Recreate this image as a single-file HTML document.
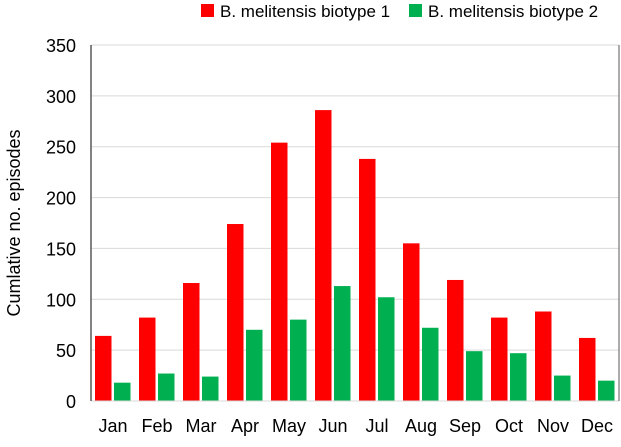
<!DOCTYPE html>
<html><head><meta charset="utf-8"><style>
body{margin:0;background:#fff;font-family:"Liberation Sans",sans-serif;}
svg text{font-family:"Liberation Sans",sans-serif;fill:#000;}
</style></head><body>
<svg id="chart" width="621" height="442">
<g id="legend">
<rect x="201" y="4" width="13" height="13" fill="#ff0000"/>
<text x="220" y="17" font-size="17">B. melitensis biotype 1</text>
<rect x="409" y="4" width="13" height="13" fill="#00b050"/>
<text x="428" y="17" font-size="17">B. melitensis biotype 2</text>
</g>
<text transform="translate(20,223) rotate(-90)" text-anchor="middle" font-size="18">Cumlative no. episodes</text>
<g id="grid"></g><g id="bars"></g><g id="axes"></g>
</svg>
<script>
const categories=["Jan","Feb","Mar","Apr","May","Jun","Jul","Aug","Sep","Oct","Nov","Dec"];
const biotype1=[64,82,116,174,254,286,238,155,119,82,88,62];
const biotype2=[18,27,24,70,80,113,102,72,49,47,25,20];
const yTicks=[0,50,100,150,200,250,300,350];
const NS="http://www.w3.org/2000/svg";
const L=91,R=619,B=401,T=45,yMax=350;
const y=v=>B-(v/yMax)*(B-T);
const cw=(R-L)/categories.length;
const x=i=>L+i*cw;
function mk(tag,attrs,parent){const e=document.createElementNS(NS,tag);for(const k in attrs)e.setAttribute(k,attrs[k]);document.getElementById(parent).appendChild(e);return e;}
yTicks.forEach(t=>{
 if(t>0){const g=mk('line',{x1:L,x2:R,y1:y(t),y2:y(t),stroke:'#d9d9d9','stroke-width':1},'grid');
 
 }
 const tx=mk('text',{x:76,y:y(t)+7,'text-anchor':'end','font-size':18},'axes');
 tx.textContent=t;
 
 
});
categories.forEach((c,i)=>{
 const r=mk('rect',{x:x(i)+4,y:y(biotype1[i]),width:16.5,height:B-y(biotype1[i]),fill:'#ff0000'},'bars');
 
 
 const g=mk('rect',{x:x(i)+23,y:y(biotype2[i]),width:16.5,height:B-y(biotype2[i]),fill:'#00b050'},'bars');
 
 
 const t=mk('text',{x:x(i)+cw/2,y:B+31,'text-anchor':'middle','font-size':18},'axes');
 t.textContent=c;
 
 
});
const base=mk('line',{x1:L,x2:R,y1:B,y2:B,stroke:'#d9d9d9','stroke-width':1},'axes');


const ya=mk('line',{x1:L,x2:L,y1:T,y2:B,stroke:'#595959','stroke-width':1.5},'axes');


const rb=mk('line',{x1:R,x2:R,y1:T,y2:B,stroke:'#595959','stroke-width':1},'axes');


</script>
</body></html>
